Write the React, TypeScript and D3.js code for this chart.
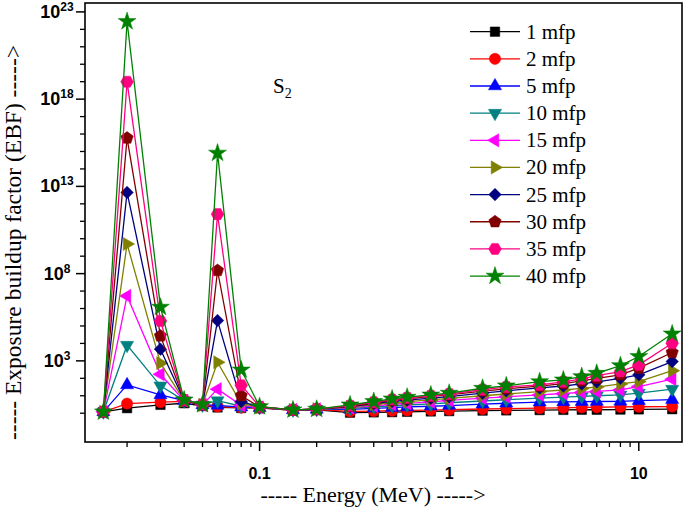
import { useEffect, useRef } from 'react'
import * as d3 from 'd3'

// photon energies (MeV)
const energies = [0.015, 0.02, 0.03, 0.04, 0.05, 0.06, 0.08, 0.1, 0.15, 0.2, 0.3, 0.4, 0.5, 0.6, 0.8, 1, 1.5, 2, 3, 4, 5, 6, 8, 10, 15]

// exposure buildup factor per penetration depth
const ebf1 = [1.2, 1.95, 3.02, 3.72, 2.63, 2.14, 2.0, 2.0, 1.48, 1.58, 1.07, 1.12, 1.15, 1.2, 1.26, 1.32, 1.41, 1.45, 1.51, 1.55, 1.58, 1.58, 1.62, 1.66, 1.7]
const ebf2 = [1.2, 3.55, 4.27, 4.79, 2.95, 2.4, 2.09, 2.04, 1.51, 1.62, 1.26, 1.32, 1.38, 1.45, 1.51, 1.58, 1.74, 1.82, 1.95, 2.04, 2.14, 2.19, 2.29, 2.34, 2.4]
const ebf5 = [1.2, 41.7, 11.2, 5.25, 3.02, 2.82, 2.24, 2.09, 1.55, 1.66, 1.66, 1.91, 2.09, 2.29, 2.51, 2.75, 3.31, 3.72, 4.27, 4.47, 4.57, 4.68, 4.79, 5.25, 6.03]
const ebf10 = [1.2, 7940, 37.2, 5.25, 3.02, 5.25, 2.51, 2.14, 1.55, 1.66, 1.91, 2.29, 2.63, 2.95, 3.39, 3.98, 5.01, 5.89, 7.24, 8.32, 9.12, 10, 11.2, 14.1, 24]
const ebf15 = [1.2, 5.25e6, 170, 5.25, 3.02, 24, 2.82, 2.14, 1.55, 1.7, 2.09, 2.63, 3.16, 3.63, 4.47, 5.5, 7.24, 8.71, 11.2, 13.5, 15.8, 17.8, 21.9, 33.9, 89.1]
const ebf20 = [1.2, 5.01e9, 741, 5.25, 3.02, 832, 3.55, 2.19, 1.55, 1.7, 2.24, 3.16, 3.98, 4.57, 5.75, 7.08, 10, 12.6, 17.4, 21.4, 26.3, 31.6, 47.9, 64.6, 275]
const ebf25 = [1.2, 4.47e12, 4680, 5.37, 3.02, 2.04e5, 4.68, 2.24, 1.55, 1.7, 2.4, 3.55, 4.79, 5.62, 7.24, 8.91, 14.1, 19.1, 28.2, 36.3, 47.9, 63.1, 100, 158, 912]
const ebf30 = [1.2, 5.89e15, 26900, 5.5, 3.09, 1.51e8, 10, 2.29, 1.55, 1.7, 2.51, 3.98, 5.5, 6.76, 9.12, 11.2, 18.6, 25.1, 35.5, 50.1, 70.8, 100, 158, 380, 3020]
const ebf35 = [1.2, 1e19, 1.95e5, 5.62, 3.16, 2.57e11, 39.8, 2.34, 1.55, 1.7, 2.69, 4.27, 6.03, 7.59, 10, 12.6, 22.4, 31.6, 41.7, 63.1, 93.3, 141, 245, 589, 10200]
const ebf40 = [1.2, 2.82e22, 1.2e6, 5.75, 3.16, 8.13e14, 302, 2.4, 1.55, 1.7, 3.02, 4.68, 6.61, 8.32, 11.2, 14.1, 26.9, 37.2, 64.6, 81.3, 126, 195, 537, 1780, 35500]

const seriesNames = ['1 mfp', '2 mfp', '5 mfp', '10 mfp', '15 mfp', '20 mfp', '25 mfp', '30 mfp', '35 mfp', '40 mfp']
const seriesValues = [ebf1, ebf2, ebf5, ebf10, ebf15, ebf20, ebf25, ebf30, ebf35, ebf40]
const colors = ['#000000', '#ff0000', '#0000ff', '#008080', '#ff00ff', '#808000', '#000080', '#800000', '#ff0080', '#008000']

const yMajorExps = [3, 8, 13, 18, 23]
const xMajor = [0.1, 1, 10]
const xTickLabels = ['0.1', '1', '10']

const SERIF = "'Liberation Serif', 'Times New Roman', serif"
const SANS = "'Liberation Sans', Arial, sans-serif"

const polygon = (n: number, offset: number) => ({
  draw(ctx: any, size: number) {
    const r = Math.sqrt(size / ((n / 2) * Math.sin((2 * Math.PI) / n)))
    for (let i = 0; i < n; i++) {
      const a = offset + (i * 2 * Math.PI) / n
      const x = r * Math.sin(a)
      const y = -r * Math.cos(a)
      if (i) ctx.lineTo(x, y)
      else ctx.moveTo(x, y)
    }
    ctx.closePath()
  },
})

// marker shape: [type, size, rotation]
const markers: [any, number, number][] = [
  [d3.symbolSquare, 90, 0],
  [d3.symbolCircle, 100, 0],
  [d3.symbolTriangle, 75, 0],
  [d3.symbolTriangle, 75, 180],
  [d3.symbolTriangle, 75, -90],
  [d3.symbolTriangle, 75, 90],
  [d3.symbolSquare, 78, 45],
  [polygon(5, 0), 100, 0],
  [polygon(6, Math.PI / 6), 105, 0],
  [d3.symbolStar, 100, 0],
]

export default function App() {
  const ref = useRef<SVGSVGElement>(null)

  useEffect(() => {
    const el = ref.current
    if (!el) return
    const W = 685
    const H = 507
    const left = 85, right = 682, top = 3, bottom = 442

    const svg = d3.select(el)
    svg.selectAll('*').remove()
    svg.attr('viewBox', `0 0 ${W} ${H}`)

    const x = d3.scaleLog().domain([0.012, 16.9]).range([left, right])
    const y = d3.scaleLog().domain([Math.pow(10, -1.65), Math.pow(10, 23.51)]).range([bottom, top])

    // x ticks
    const xMinor: number[] = []
    for (const dec of [0.01, 0.1, 1]) for (let k = 2; k <= 9; k++) xMinor.push(dec * k)
    const gx = svg.append('g')
    gx.selectAll('.xmin').data(xMinor.filter(v => v > 0.012 && v < 16.9)).join('line')
      .attr('x1', d => x(d)).attr('x2', d => x(d)).attr('y1', bottom).attr('y2', bottom + 5)
      .attr('stroke', '#000').attr('stroke-width', 1.3)
    gx.selectAll('.xmaj').data(xMajor).join('line')
      .attr('x1', d => x(d)).attr('x2', d => x(d)).attr('y1', bottom).attr('y2', bottom + 9)
      .attr('stroke', '#000').attr('stroke-width', 1.5)
    gx.selectAll('text').data(xMajor).join('text')
      .attr('x', d => x(d)).attr('y', 479).attr('text-anchor', 'middle')
      .attr('font-family', SANS).attr('font-weight', 'bold').attr('font-size', 16)
      .text((_, i) => xTickLabels[i])

    // y ticks
    const yExps = d3.range(0, 24)
    const gy = svg.append('g')
    gy.selectAll('line').data(yExps).join('line')
      .attr('x1', left).attr('x2', d => left - (yMajorExps.includes(d) ? 9 : 5))
      .attr('y1', d => y(Math.pow(10, d))).attr('y2', d => y(Math.pow(10, d)))
      .attr('stroke', '#000').attr('stroke-width', d => (yMajorExps.includes(d) ? 1.5 : 1.3))
    const ylab = gy.selectAll('text').data(yMajorExps).join('text')
      .attr('x', 57).attr('y', d => y(Math.pow(10, d)) + 6).attr('text-anchor', 'middle')
      .attr('font-family', SANS).attr('font-weight', 'bold').attr('font-size', 18)
    ylab.append('tspan').text('10')
    ylab.append('tspan').attr('font-size', 12).attr('dy', -7).text(d => String(d))

    // series
    const line = d3.line<number>().x((_, i) => x(energies[i])).y(d => y(d))
    seriesValues.forEach((vals, s) => {
      const g = svg.append('g')
      g.append('path').datum(vals).attr('d', line)
        .attr('fill', 'none').attr('stroke', colors[s]).attr('stroke-width', 1.3)
      const [type, size, rot] = markers[s]
      const sym = d3.symbol(type, size)
      g.selectAll('path.m').data(vals).join('path').attr('class', 'm')
        .attr('d', sym)
        .attr('transform', (d, i) => `translate(${x(energies[i])},${y(d)}) rotate(${rot})`)
        .attr('fill', colors[s]).attr('stroke', colors[s]).attr('stroke-width', 0.5)
    })

    // frame
    svg.append('rect').attr('x', left).attr('y', top).attr('width', right - left).attr('height', bottom - top)
      .attr('fill', 'none').attr('stroke', '#000').attr('stroke-width', 1.6)

    // legend
    const lg = svg.append('g')
    seriesNames.forEach((name, s) => {
      const cy = 31.7 + s * 27.15
      lg.append('line').attr('x1', 470).attr('x2', 520).attr('y1', cy).attr('y2', cy)
        .attr('stroke', colors[s]).attr('stroke-width', 1.3)
      const [type, size, rot] = markers[s]
      lg.append('path').attr('d', d3.symbol(type, size)())
        .attr('transform', `translate(495,${cy}) rotate(${rot})`)
        .attr('fill', colors[s]).attr('stroke', colors[s]).attr('stroke-width', 0.5)
      lg.append('text').attr('x', 526).attr('y', cy + 7)
        .attr('font-family', SERIF).attr('font-size', 21)
        .text(name)
    })

    // S2 label
    const s2 = svg.append('text').attr('x', 273).attr('y', 93)
      .attr('font-family', SERIF).attr('font-size', 21)
    s2.append('tspan').text('S')
    s2.append('tspan').attr('font-size', 14).attr('dy', 5).text('2')

    // axis titles
    svg.append('text').attr('x', 373).attr('y', 502).attr('text-anchor', 'middle')
      .attr('font-family', SERIF).attr('font-size', 22)
      .text('----- Energy (MeV) ----->')
    svg.append('text').attr('transform', `translate(21,${(top + bottom) / 2 + 20}) rotate(-90)`)
      .attr('text-anchor', 'middle')
      .attr('font-family', SERIF).attr('font-size', 23.5)
      .text('----- Exposure buildup factor (EBF) ----->')
  }, [])

  return (
    <svg ref={ref} width={685} height={507}
      style={{ position: 'absolute', left: 0, top: 0, background: '#fff' }} />
  )
}
